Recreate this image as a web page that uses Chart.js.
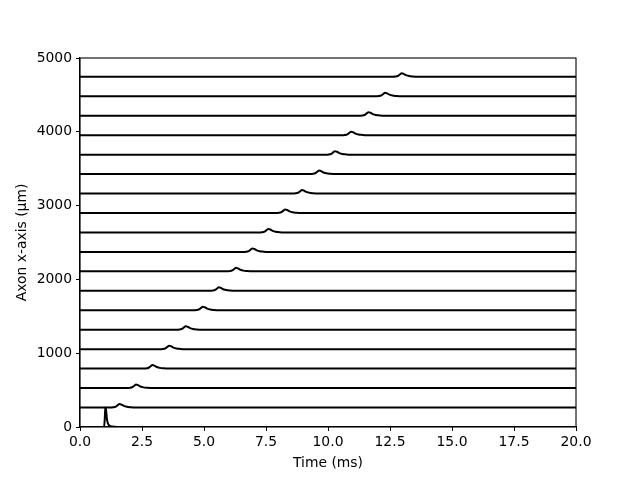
<!DOCTYPE html>
<html>
<head>
<meta charset="utf-8">
<script src="https://cdn.jsdelivr.net/npm/chart.js@4.4.0/dist/chart.umd.min.js"></script>
<style>
    html, body { margin: 0; padding: 0; background: #fff; }
    #wrap { width: 640px; height: 480px; position: relative; }
</style>
</head>
<body>
<div id="wrap"><canvas id="chartAxon"></canvas></div>
<script>
// Posição (µm) de cada traço ao longo do axónio, de baixo para cima
const offsets = [0, 264, 527, 791, 1054, 1318, 1582, 1845, 2109, 2372, 2636, 2900, 3163, 3427, 3690, 3954, 4218, 4481, 4745];

// Primeiro traço: o estímulo (pico alto em t = 1 ms)
const spikeTimes = [0, 0.97, 1.0, 1.02, 1.05, 1.08, 1.12, 1.18, 1.3, 1.5, 20];
const spikeValues = [0, 0, 120, 265, 235, 125, 55, 22, 6, 0, 0];

// Restantes traços: instante do pico (ms)
const bumpPeaks = [1.59, 2.26, 2.92, 3.59, 4.26, 4.95, 5.60, 6.29, 6.95, 7.59, 8.27, 8.95, 9.64, 10.28, 10.93, 11.63, 12.30, 12.97];
// Forma do pequeno pico (tempo relativo ao pico, altura em µm)
const bumpDt = [-0.4, -0.25, -0.15, -0.07, 0, 0.08, 0.18, 0.3, 0.45, 0.65];
const bumpDv = [0, 3, 12, 32, 48, 40, 22, 10, 4, 0];

const xTicks = [0, 2.5, 5, 7.5, 10, 12.5, 15, 17.5, 20];
const yTicks = [0, 1000, 2000, 3000, 4000, 5000];

const FONT = { family: 'DejaVu Sans', size: 13.9 };

function buildDatasets() {
    const sets = [];
    sets.push({
        data: spikeTimes.map((t, i) => ({ x: t, y: offsets[0] + spikeValues[i] }))
    });
    bumpPeaks.forEach((tp, k) => {
        const base = offsets[k + 1];
        const pts = [{ x: 0, y: base }];
        bumpDt.forEach((dt, i) => pts.push({ x: tp + dt, y: base + bumpDv[i] }));
        pts.push({ x: 20, y: base });
        sets.push({ data: pts });
    });
    return sets.map(s => Object.assign(s, {
        borderColor: '#000',
        borderWidth: 2,
        pointRadius: 0,
        fill: false,
        cubicInterpolationMode: 'monotone'
    }));
}

// Caixa completa à volta da área do gráfico (como no matplotlib)
const frame = {
    id: 'frame',
    afterDatasetsDraw(chart) {
        const { ctx, chartArea: a } = chart;
        ctx.save();
        ctx.strokeStyle = '#000';
        ctx.lineWidth = 1.1;
        ctx.strokeRect(a.left, a.top, a.right - a.left, a.bottom - a.top);
        ctx.restore();
    }
};

new Chart(document.getElementById('chartAxon'), {
    type: 'line',
    data: { datasets: buildDatasets() },
    options: {
        responsive: true,
        maintainAspectRatio: false,
        animation: false,
        layout: { padding: { top: 58, right: 64, left: 0, bottom: 0 } },
        plugins: {
            legend: { display: false },
            tooltip: { enabled: false }
        },
        scales: {
            x: {
                type: 'linear',
                min: 0,
                max: 20,
                afterBuildTicks: s => { s.ticks = xTicks.map(v => ({ value: v })); },
                afterFit: s => { s.height = 53; },
                ticks: {
                    color: '#000',
                    font: FONT,
                    padding: 3,
                    maxRotation: 0,
                    callback: v => Number(v).toFixed(1)
                },
                grid: { drawOnChartArea: false, drawTicks: true, tickLength: 4, color: '#000' },
                border: { display: true, color: '#000', width: 1.1 },
                title: {
                    display: true,
                    text: 'Time (ms)',
                    color: '#000',
                    font: FONT,
                    padding: { top: 0, bottom: 8 }
                }
            },
            y: {
                type: 'linear',
                min: 0,
                max: 5000,
                afterBuildTicks: s => { s.ticks = yTicks.map(v => ({ value: v })); },
                afterFit: s => { s.width = 80; },
                ticks: {
                    color: '#000',
                    font: FONT,
                    padding: 4,
                    callback: v => String(v)
                },
                grid: { drawOnChartArea: false, drawTicks: true, tickLength: 4, color: '#000' },
                border: { display: true, color: '#000', width: 1.1 },
                title: {
                    display: true,
                    text: 'Axon x-axis (µm)',
                    color: '#000',
                    font: FONT,
                    padding: { top: 14, bottom: 0 }
                }
            }
        }
    },
    plugins: [frame]
});
</script>
</body>
</html>
